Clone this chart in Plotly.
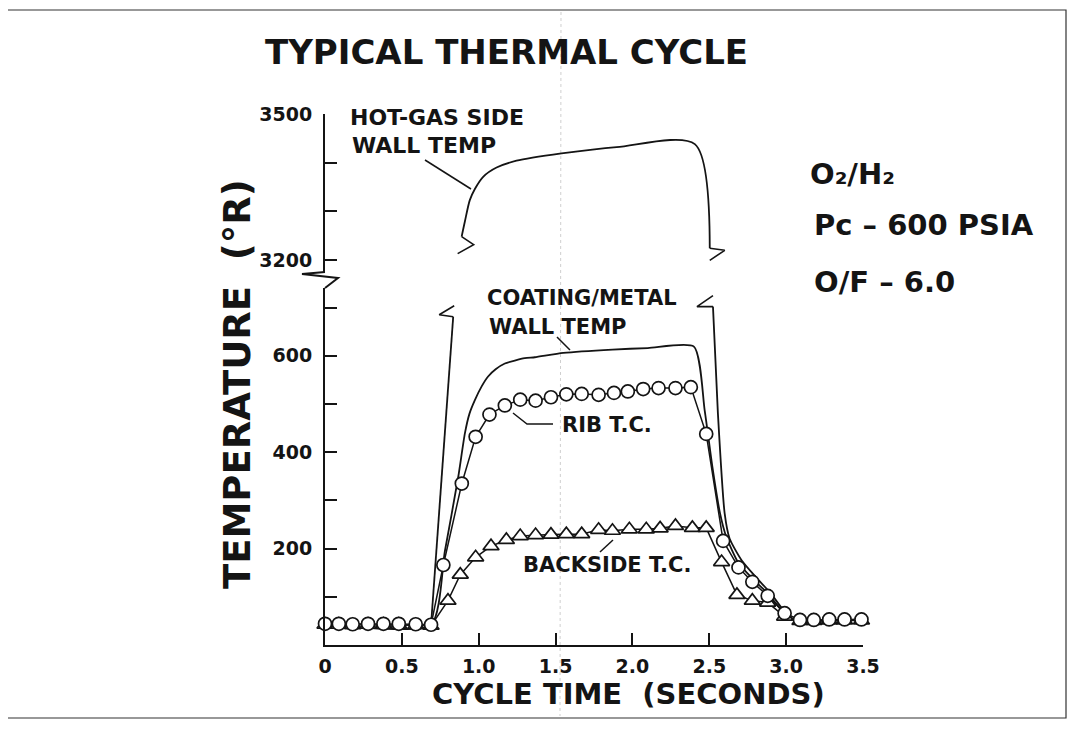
import plotly.graph_objects as go

# ---------------- data ----------------
# RIB T.C. (circles)
rib_t = [0.00, 0.09, 0.18, 0.28, 0.38, 0.48, 0.59, 0.69, 0.77, 0.89, 0.98, 1.07, 1.17, 1.27,
         1.37, 1.47, 1.57, 1.67, 1.78, 1.88, 1.97, 2.07, 2.17, 2.28, 2.38, 2.48, 2.59, 2.69,
         2.78, 2.88, 2.99, 3.09, 3.18, 3.28, 3.38, 3.49]
rib_temp = [44, 44, 43, 44, 44, 44, 43, 42, 166, 335, 432, 478, 497, 509, 507, 514, 520, 521,
            519, 523, 526, 531, 533, 533, 535, 438, 216, 161, 131, 102, 66, 52, 52, 53, 53, 53]

# BACKSIDE T.C. (triangles)
back_t = [0.00, 0.09, 0.18, 0.28, 0.38, 0.48, 0.59, 0.69, 0.80, 0.88, 0.98, 1.08, 1.18, 1.27,
          1.37, 1.47, 1.57, 1.67, 1.78, 1.87, 1.98, 2.09, 2.18, 2.28, 2.39, 2.48, 2.58, 2.68,
          2.78, 2.88, 2.99, 3.09, 3.18, 3.28, 3.38, 3.49]
back_temp = [42, 42, 41, 42, 42, 42, 41, 40, 92, 146, 182, 205, 218, 226, 228, 229, 230, 230,
             239, 237, 240, 240, 242, 247, 243, 243, 172, 104, 92, 88, 59, 50, 50, 51, 51, 51]

# COATING/METAL WALL TEMP (plain curve)
coat_t = [0.00, 0.69, 0.78, 0.867, 0.91, 0.94, 0.975, 1.02, 1.061, 1.11, 1.17, 1.30, 1.365,
          1.55, 1.87, 2.10, 2.40, 2.47, 2.52, 2.57, 2.61, 2.69, 2.78, 2.88, 2.98, 3.06, 3.49]
coat_temp = [44, 42, 195, 349, 439, 480, 508, 537, 557, 572, 584, 595, 597,
             606, 613, 616, 619, 487, 370, 273, 225, 170, 138, 107, 69, 52, 53]

# HOT-GAS SIDE WALL TEMP, lower (broken) part: rise and fall
hot_rise_t = [0.69, 0.834]
hot_rise_temp = [42, 681]
hot_fall_t = [2.524, 2.556, 2.60, 2.632, 2.71, 2.80, 2.90, 2.99, 3.05]
hot_fall_temp = [702, 481, 273, 221, 176, 142, 107, 69, 52]

# HOT-GAS SIDE WALL TEMP, upper part (3200-3500 scale)
hot_up_t = [0.889, 0.91, 0.942, 0.975, 1.029, 1.116, 1.246, 1.539, 1.897, 2.406, 2.503]
hot_up_temp = [3248, 3279, 3323, 3346, 3371, 3390, 3404, 3419, 3432, 3438, 3224]

# axes
x_ticks = [0, 0.5, 1.0, 1.5, 2.0, 2.5, 3.0, 3.5]
x_ticktext = ["0", "0.5", "1.0", "1.5", "2.0", "2.5", "3.0", "3.5"]
y_lo_ticks = [200, 400, 600]
y_lo_minor = [100, 300, 500, 700]
y_up_ticks = [3200, 3500]
y_up_minor = [3300, 3400]

# ---------------- layout geometry (reference pixels) ----------------
OFF = 8                   # page margin of the html body
W_FIG, H_FIG = 1075 - OFF, 731 - OFF
L, R, T, B = 325, 863, 114, 645
PW, PH = R - L, B - T
LO_TOP_PX = 288           # top of lower (0..) axis segment
UP_BOT_PX = 273           # bottom of upper (3200..) axis segment
LO_SCALE = 48.2 / 100.0   # px per degree, lower
UP_SCALE = 146.0 / 300.0  # px per degree, upper
X_MAX = 3.5

lo_range = [0, (B - LO_TOP_PX) / LO_SCALE]
up_range = [3500 - (UP_BOT_PX - T) / UP_SCALE, 3500]


def px(xp):
    return (xp - L) / PW


def py(yp):
    return (B - yp) / PH


def dtx(dpx):
    return dpx / PW * X_MAX


def dlo(dpy):
    return -dpy / LO_SCALE


def dup(dpy):
    return -dpy / UP_SCALE


FONT = "DejaVu Sans"
INK = "#141414"
LW = 1.8

fig = go.Figure()

# faint fold line of the scanned page
fig.add_shape(type="line", xref="paper", yref="paper", x0=px(561), x1=px(560), y0=py(12), y1=py(716),
              line=dict(color="#cfcfcf", width=1, dash="dot"), layer="below")

# curves without markers
spl = dict(color=INK, width=LW, shape="spline", smoothing=0.6)
fig.add_trace(go.Scatter(x=coat_t, y=coat_temp, mode="lines", line=spl,
                         name="COATING/METAL WALL TEMP", xaxis="x", yaxis="y", cliponaxis=False))
fig.add_trace(go.Scatter(x=hot_rise_t, y=hot_rise_temp, mode="lines", line=dict(color=INK, width=LW),
                         name="HOT-GAS SIDE WALL TEMP", xaxis="x", yaxis="y", cliponaxis=False))
fig.add_trace(go.Scatter(x=hot_fall_t, y=hot_fall_temp, mode="lines", line=spl,
                         name="HOT-GAS SIDE WALL TEMP", xaxis="x", yaxis="y", cliponaxis=False))
fig.add_trace(go.Scatter(x=hot_up_t, y=hot_up_temp, mode="lines",
                         line=dict(color=INK, width=LW, shape="spline", smoothing=0.8),
                         name="HOT-GAS SIDE WALL TEMP", xaxis="x", yaxis="y2", cliponaxis=False))


# break flags at the ends of the broken hot-gas curve
def flag(x0, y0, offs, conv):
    xs, ys = [x0], [y0]
    for dx, dy in offs:
        xs.append(x0 + dtx(dx))
        ys.append(y0 + conv(dy))
    return xs, ys


flags = [
    (hot_rise_t[-1], hot_rise_temp[-1], [(-14, -2), (1, -11)], dlo, "y"),
    (hot_fall_t[0], hot_fall_temp[0], [(-16, 0), (0, -11)], dlo, "y"),
    (hot_up_t[0], hot_up_temp[0], [(12, 8), (-4, 17)], dup, "y2"),
    (hot_up_t[-1], hot_up_temp[-1], [(15, 2), (0, 12)], dup, "y2"),
]
for x0, y0, offs, conv, ya in flags:
    fx, fy = flag(x0, y0, offs, conv)
    fig.add_trace(go.Scatter(x=fx, y=fy, mode="lines", line=dict(color=INK, width=1.6),
                             xaxis="x", yaxis=ya, showlegend=False, hoverinfo="skip", cliponaxis=False))

# marker series
fig.add_trace(go.Scatter(x=back_t, y=back_temp, mode="lines+markers", name="BACKSIDE T.C.",
                         line=dict(color=INK, width=1.5),
                         marker=dict(symbol="triangle-up", size=14, color="white", line=dict(color=INK, width=1.7)),
                         xaxis="x", yaxis="y", cliponaxis=False))
fig.add_trace(go.Scatter(x=rib_t, y=rib_temp, mode="lines+markers", name="RIB T.C.",
                         line=dict(color=INK, width=1.5),
                         marker=dict(symbol="circle", size=13, color="white", line=dict(color=INK, width=1.7)),
                         xaxis="x", yaxis="y", cliponaxis=False))

axis_common = dict(showline=True, linecolor=INK, linewidth=2, ticks="inside", ticklen=12, tickwidth=2,
                   tickcolor=INK, showgrid=False, zeroline=False, tickmode="array",
                   tickfont=dict(family=FONT, size=19, color=INK, weight="bold"))
minor_common = dict(ticks="inside", ticklen=12, tickwidth=2, tickcolor=INK, showgrid=False, tickmode="array")

fig.update_layout(
    width=W_FIG, height=H_FIG,
    margin=dict(l=L - OFF, r=W_FIG - (R - OFF), t=T - OFF, b=H_FIG - (B - OFF), pad=0),
    paper_bgcolor="white", plot_bgcolor="white",
    showlegend=False,
    xaxis=dict(range=[0, X_MAX], domain=[0, 1], anchor="y", tickvals=x_ticks, ticktext=x_ticktext,
               ticklabelstandoff=3, **axis_common),
    yaxis=dict(range=lo_range, domain=[0, py(LO_TOP_PX)], anchor="x", tickvals=y_lo_ticks,
               minor=dict(tickvals=y_lo_minor, **minor_common),
               ticklabelstandoff=7, **axis_common),
    yaxis2=dict(range=up_range, domain=[py(UP_BOT_PX), 1], anchor="x", tickvals=y_up_ticks,
                minor=dict(tickvals=y_up_minor, **minor_common),
                ticklabelstandoff=7, **axis_common),
)

# axis break zig-zag on the temperature axis
pts = [(325, 272), (302, 274), (338, 278), (325, 288)]
path = "M " + " L ".join(f"{px(a)},{py(b)}" for a, b in pts)
fig.add_shape(type="path", path=path, xref="paper", yref="paper", line=dict(color=INK, width=2))

# leader lines from labels to curves
leaders = [
    [(425, 160), (471, 189)],
    [(557, 337), (570, 350)],
    [(513, 413), (527, 424), (553, 424)],
    [(600, 552), (613, 540)],
]
for ld in leaders:
    p = "M " + " L ".join(f"{px(a)},{py(b)}" for a, b in ld)
    fig.add_shape(type="path", path=p, xref="paper", yref="paper", line=dict(color=INK, width=1.5))

# outer frame of the page
fig.add_shape(type="rect", xref="paper", yref="paper", x0=px(5), x1=px(1066), y0=py(718), y1=py(10),
              line=dict(color="#333333", width=1.2))


def ann(text, xp, yp, size, anchor="left", bold=True, angle=0, align="left"):
    fig.add_annotation(text=text, x=px(xp), y=py(yp), xref="paper", yref="paper", showarrow=False,
                       xanchor=anchor, yanchor="middle", textangle=angle, align=align,
                       font=dict(family=FONT, size=size, color=INK, weight="bold" if bold else "normal"))


ann("TYPICAL THERMAL CYCLE", 506, 52, 34, anchor="center")
ann("TEMPERATURE  (°R)", 237, 384, 37, anchor="center", angle=-90)
ann("CYCLE TIME  (SECONDS)", 628, 694, 29, anchor="center")
ann("O₂/H₂", 808, 174, 29)
ann("Pc – 600 PSIA", 812, 225, 29)
ann("O/F – 6.0", 812, 282, 29)
ann("HOT-GAS SIDE", 348, 118, 22)
ann("WALL TEMP", 350, 146, 22)
ann("COATING/METAL", 485, 298, 21)
ann("WALL TEMP", 487, 327, 21)
ann("RIB T.C.", 560, 425, 21)
ann("BACKSIDE T.C.", 521, 565, 21)

fig.write_html("out.html")
